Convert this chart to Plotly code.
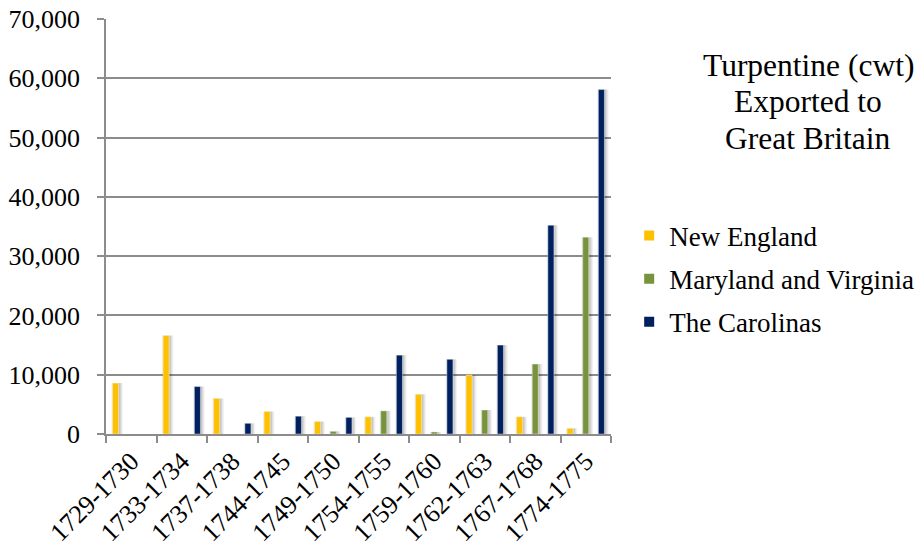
import plotly.graph_objects as go

# Turpentine exports (cwt) to Great Britain by colonial region
periods = ["1729-1730", "1733-1734", "1737-1738", "1744-1745", "1749-1750",
           "1754-1755", "1759-1760", "1762-1763", "1767-1768", "1774-1775"]
new_england = [8600, 16600, 6000, 3800, 2100, 2900, 6700, 9950, 2900, 950]
maryland_virginia = [None, None, None, None, 450, 3900, 350, 4050, 11800, 33200]
carolinas = [None, 8000, 1800, 3000, 2800, 13300, 12600, 15000, 35200, 58100]

series_names = ["New England", "Maryland and Virginia", "The Carolinas"]
series_colors = ["#FFC000", "#77933C", "#002060"]
series_values = [new_england, maryland_virginia, carolinas]

title_lines = ["Turpentine (cwt)", "Exported to", "Great Britain"]

FONT = "Liberation Serif"
GRID = "#8c8c8c"
bar_w = 0.12
slot = 0.31

fig = go.Figure()

# soft drop shadows behind each bar
for i, vals in enumerate(series_values):
    center = (i - 1) * slot
    for extra, shift, alpha in [(0.11, 0.03, 0.05), (0.07, 0.025, 0.08), (0.035, 0.018, 0.11)]:
        w = bar_w + extra
        fig.add_trace(go.Bar(
            x=periods, y=vals, width=w, offset=center - w / 2 + shift,
            marker=dict(color=f"rgba(0,0,0,{alpha})", line=dict(width=0)),
            showlegend=False, hoverinfo="skip"))

# the bars themselves
for i, (name, color, vals) in enumerate(zip(series_names, series_colors, series_values)):
    center = (i - 1) * slot
    fig.add_trace(go.Bar(
        x=periods, y=vals, name=name, width=bar_w, offset=center - bar_w / 2,
        marker=dict(color=color, line=dict(width=0.6, color="rgba(255,255,255,0.7)")),
        showlegend=False))

# small square legend keys
for i, (name, color) in enumerate(zip(series_names, series_colors)):
    fig.add_trace(go.Scatter(
        x=[None], y=[None], mode="markers", name=name, legendgroup=f"g{i}",
        marker=dict(symbol="square", size=10, color=color)))

# three-line title, one annotation per line for tight leading
title_y = [0.887, 0.800, 0.713]
annotations = [
    dict(text=t, xref="paper", yref="paper", x=1.391, y=y,
         xanchor="center", yanchor="middle", showarrow=False,
         font=dict(family=FONT, size=31.5, color="black"))
    for t, y in zip(title_lines, title_y)
]

fig.update_layout(
    width=920, height=554,
    margin=dict(l=106, r=309, t=19, b=120, autoexpand=False),
    paper_bgcolor="white", plot_bgcolor="white",
    barmode="overlay",
    font=dict(family=FONT, size=26, color="black"),
    legend=dict(x=1.036, y=0.536, xanchor="left", yanchor="top",
                font=dict(family=FONT, size=27, color="black"),
                tracegroupgap=5, itemwidth=30, bgcolor="rgba(0,0,0,0)"),
    annotations=annotations,
)

fig.update_xaxes(
    type="category", categoryorder="array", categoryarray=periods,
    tickson="boundaries", ticks="outside", ticklen=7, tickwidth=1.5, tickcolor=GRID,
    showline=True, linecolor=GRID, linewidth=1.5, showgrid=False, automargin=False,
    tickangle=-45, tickfont=dict(family=FONT, size=26, color="black"))

fig.update_yaxes(
    range=[0, 70000], dtick=10000, tickformat=",",
    ticks="outside", ticklen=7, tickwidth=1.5, tickcolor=GRID,
    showline=True, linecolor=GRID, linewidth=1.5, automargin=False,
    showgrid=True, gridcolor=GRID, gridwidth=1.5, zeroline=False,
    ticklabelstandoff=12, tickfont=dict(family=FONT, size=26, color="black"))

fig.write_html("out.html")
